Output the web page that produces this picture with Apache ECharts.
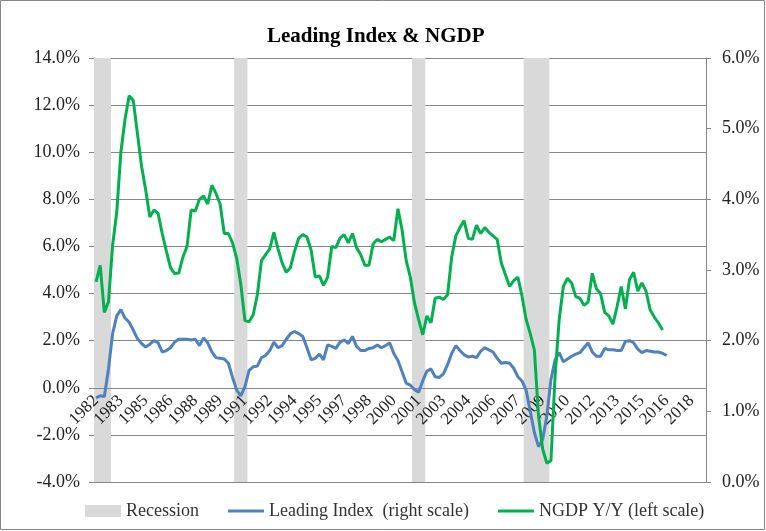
<!DOCTYPE html>
<html>
<head>
<meta charset="utf-8">
<title>Leading Index & NGDP</title>
<script src="https://cdn.jsdelivr.net/npm/echarts@6/dist/echarts.min.js"></script>
<style>
    html, body { margin: 0; padding: 0; background: #fff; }
    #chart { width: 766px; height: 531px; }
</style>
</head>
<body>
<div id="chart"></div>
<script>
// quarters 1982Q1 .. 2018Q4
const startYear = 1982;
const endYear = 2018;

// recession periods (first quarter, last quarter)
const recessions = [
    ["1982Q1", "1982Q4"],
    ["1990Q3", "1991Q1"],
    ["2001Q2", "2001Q4"],
    ["2008Q1", "2009Q2"],
];

// NGDP Y/Y, % (left scale), one value per quarter from 1982Q1
const ngdp = [
    4.5, 5.2, 3.2, 3.65, 6.05, 7.45, 10.0, 11.4, 12.4, 12.2,
    10.8, 9.4, 8.4, 7.25, 7.55, 7.4, 6.55, 5.8, 5.1, 4.85,
    4.87, 5.55, 6.0, 7.55, 7.5, 8.0, 8.15, 7.8, 8.6, 8.25,
    7.8, 6.55, 6.55, 6.15, 5.5, 4.4, 2.85, 2.8, 3.1, 3.95,
    5.4, 5.65, 5.9, 6.6, 5.9, 5.3, 4.9, 5.1, 5.8, 6.35,
    6.5, 6.4, 5.85, 4.7, 4.75, 4.35, 4.7, 6.0, 5.95, 6.35,
    6.5, 6.15, 6.55, 5.95, 5.65, 5.2, 5.2, 6.1, 6.3, 6.2,
    6.3, 6.4, 6.25, 7.6, 6.7, 5.4, 4.7, 3.6, 2.9, 2.25,
    3.05, 2.76, 3.8, 3.85, 3.75, 3.95, 5.55, 6.45, 6.8, 7.1,
    6.35, 6.3, 6.9, 6.55, 6.8, 6.6, 6.45, 6.3, 5.3, 4.8,
    4.3, 4.55, 4.7, 3.9, 2.9, 2.3, 1.6, -1.2, -2.6, -3.2,
    -3.1, 0.5, 2.9, 4.3, 4.65, 4.45, 3.87, 3.8, 3.5, 3.65,
    4.86, 4.2, 4.0, 3.2, 3.05, 2.7, 3.45, 4.3, 3.35, 4.6,
    4.9, 4.1, 4.45, 4.1, 3.3, 3.0, 2.75, 2.45,
];

// Leading Index, % (right scale)
const leading = [
    1.19, 1.22, 1.21, 1.6, 2.1, 2.35, 2.44, 2.32, 2.26, 2.15,
    2.03, 1.96, 1.91, 1.95, 2.0, 1.97, 1.84, 1.86, 1.9, 1.98,
    2.02, 2.02, 2.02, 2.01, 2.02, 1.93, 2.04, 1.97, 1.84, 1.76,
    1.75, 1.74, 1.68, 1.48, 1.3, 1.22, 1.35, 1.58, 1.63, 1.64,
    1.76, 1.79, 1.86, 1.98, 1.9, 1.93, 2.02, 2.1, 2.13, 2.1,
    2.06, 1.9, 1.73, 1.75, 1.81, 1.73, 1.94, 1.92, 1.89, 1.98,
    2.01, 1.96, 2.06, 1.92, 1.86, 1.86, 1.89, 1.9, 1.94, 1.9,
    1.93, 1.97, 1.82, 1.72, 1.56, 1.4, 1.37, 1.31, 1.27, 1.43,
    1.57, 1.6, 1.49, 1.48, 1.53, 1.66, 1.82, 1.93, 1.86, 1.8,
    1.77, 1.78, 1.76, 1.85, 1.9, 1.87, 1.84, 1.75, 1.68, 1.69,
    1.68, 1.61, 1.49, 1.43, 1.3, 1.0, 0.7, 0.5, 0.6, 0.93,
    1.45, 1.73, 1.83, 1.7, 1.74, 1.78, 1.81, 1.83, 1.9, 1.97,
    1.84, 1.78, 1.78, 1.89, 1.87, 1.87, 1.86, 1.86, 1.99, 2.0,
    1.97, 1.88, 1.83, 1.86, 1.85, 1.84, 1.84, 1.82, 1.79,
];

// axis ranges
const leftAxis = { min: -4, max: 14, interval: 2 };
const rightAxis = { min: 0, max: 6, interval: 1 };

const serif = "Liberation Serif";
const axisGray = "#868686";
const legendFont = { fontFamily: serif, fontSize: 18, color: "#333" };
// thin line legend icon (36 x 12 box, 3px bar in the middle)
const lineIcon = "path://M0,0M36,12M0,4.5L36,4.5L36,7.5L0,7.5Z";

/**
 * build quarter categories
 */
function buildQuarters() {
    const list = [];
    for (let y = startYear; y <= endYear; y++) {
        for (let q = 1; q <= 4; q++) {
            list.push(y + "Q" + q);
        }
    }
    return list;
}

const quarters = buildQuarters();

/**
 * gray bars on the recession quarters
 */
function buildRecessionData() {
    const data = quarters.map(() => null);
    recessions.forEach(([from, to]) => {
        const a = quarters.indexOf(from);
        const b = quarters.indexOf(to);
        for (let i = a; i <= b; i++) {
            data[i] = 1;
        }
    });
    return data;
}

const chart = echarts.init(document.getElementById("chart"));

const option = {
    animation: false,
    backgroundColor: "#fff",
    title: {
        text: "Leading Index & NGDP",
        left: 262,
        top: 21,
        textStyle: {
            fontFamily: serif,
            fontWeight: "bold",
            fontSize: 21,
            color: "#000",
        },
    },
    legend: {
        left: 80,
        top: 497,
        itemWidth: 36,
        itemHeight: 12,
        itemGap: 29,
        textStyle: legendFont,
        data: [
            { name: "Recession", icon: "rect", textStyle: legendFont },
            {
                name: "Leading Index  (right scale)",
                icon: lineIcon,
                itemStyle: { borderWidth: 0 },
                textStyle: legendFont,
            },
            {
                name: "NGDP Y/Y (left scale)",
                icon: lineIcon,
                itemStyle: { borderWidth: 0 },
                textStyle: legendFont,
            },
        ],
    },
    grid: { left: 94, right: 60, top: 58, bottom: 49 },
    xAxis: {
        type: "category",
        data: quarters,
        boundaryGap: true,
        z: 5,
        // sits on the 0% line of the left axis
        offset: -94,
        axisLine: {
            onZero: false,
            lineStyle: { color: axisGray, width: 1 },
        },
        axisTick: {
            interval: 5,
            length: 5,
            lineStyle: { color: axisGray },
        },
        axisLabel: {
            interval: 5,
            rotate: 45,
            margin: 10,
            fontFamily: serif,
            fontSize: 17,
            color: "#222",
            formatter: v => v.slice(0, 4),
        },
    },
    yAxis: [
        {
            type: "value",
            position: "left",
            min: leftAxis.min,
            max: leftAxis.max,
            interval: leftAxis.interval,
            axisLine: { show: true, lineStyle: { color: axisGray } },
            axisTick: { show: true, length: 5, lineStyle: { color: axisGray } },
            splitLine: { show: true, lineStyle: { color: axisGray, width: 1 } },
            axisLabel: {
                margin: 14,
                fontFamily: serif,
                fontSize: 18,
                color: "#222",
                formatter: v => v.toFixed(1) + "%",
            },
        },
        {
            type: "value",
            position: "right",
            min: rightAxis.min,
            max: rightAxis.max,
            interval: rightAxis.interval,
            axisLine: { show: true, lineStyle: { color: axisGray } },
            axisTick: { show: true, length: 5, lineStyle: { color: axisGray } },
            splitLine: { show: false },
            axisLabel: {
                margin: 16,
                fontFamily: serif,
                fontSize: 18,
                color: "#222",
                formatter: v => v.toFixed(1) + "%",
            },
        },
        {
            // hidden axis for the recession bars
            type: "value",
            show: false,
            min: 0,
            max: 1,
        },
    ],
    series: [
        {
            name: "Recession",
            type: "bar",
            yAxisIndex: 2,
            data: buildRecessionData(),
            barWidth: 5,
            itemStyle: { color: "#d9d9d9" },
            silent: true,
        },
        {
            name: "Leading Index  (right scale)",
            type: "line",
            yAxisIndex: 1,
            data: leading,
            symbol: "none",
            lineStyle: { color: "#4f81bd", width: 3 },
            itemStyle: { color: "#4f81bd" },
            z: 6,
        },
        {
            name: "NGDP Y/Y (left scale)",
            type: "line",
            yAxisIndex: 0,
            data: ngdp,
            symbol: "none",
            lineStyle: { color: "#00b050", width: 3 },
            itemStyle: { color: "#00b050" },
            z: 7,
        },
    ],
    graphic: [
        {
            // chart border
            type: "rect",
            shape: { x: 0.5, y: 0.5, width: 764, height: 529 },
            style: { fill: null, stroke: axisGray, lineWidth: 1 },
            silent: true,
        },
    ],
};

chart.setOption(option);
</script>
</body>
</html>
